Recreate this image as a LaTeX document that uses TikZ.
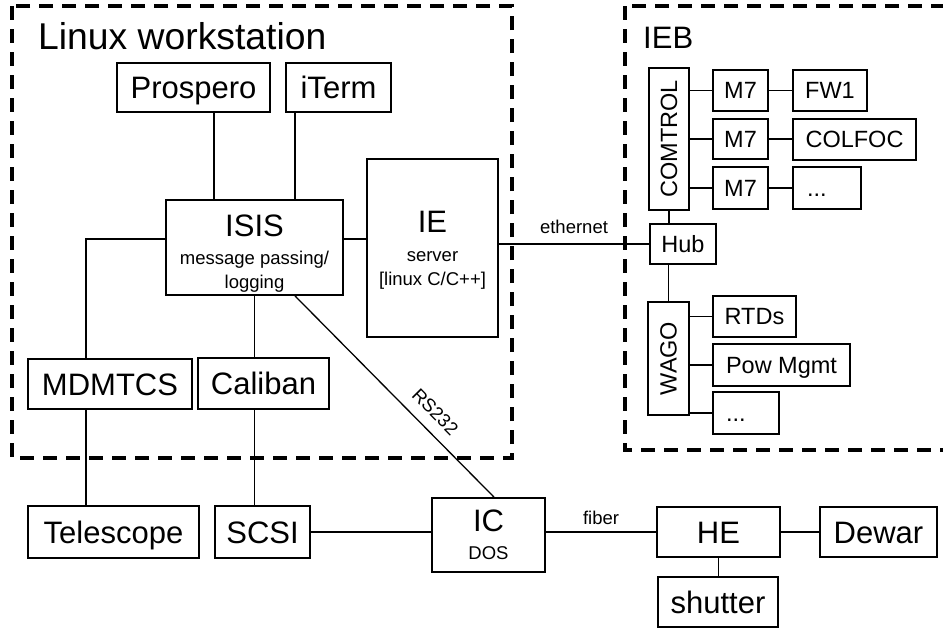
\documentclass[tikz,border=0pt]{standalone}
\usepackage{fontspec}
\setmainfont{Liberation Sans}
\newcommand\dgTitle{\fontsize{37.3}{40}\selectfont}
\newcommand\dgBig{\fontsize{31}{27}\selectfont}
\newcommand\dgMid{\fontsize{23.5}{26}\selectfont}
\newcommand\dgSmall{\fontsize{18.5}{21}\selectfont}
\begin{document}
\begin{tikzpicture}[x=1pt,y=-1pt,
  box/.style={draw, line width=1.8pt, inner sep=0pt, align=center},
  bigtxt/.style={font=\dgBig, text height=22.2pt, text depth=0pt},
  midtxt/.style={font=\dgMid, text height=16.8pt, text depth=0pt},
  midrot/.style={font=\dgMid},
  multi/.style={font=\dgSmall},
  wire/.style={line width=1.8pt},
  thinwire/.style={line width=1.3pt},
  group/.style={draw, line width=4.5pt, dash pattern=on 14pt off 9pt},
  lbl/.style={font=\dgSmall, inner sep=1pt}]
\fill[white] (0,0) rectangle (943,629);
\useasboundingbox (0,0) rectangle (943,629);
% group frames
\draw[group] (12,6) rectangle (512,458);
\begin{scope}
\clip (0,0) rectangle (943,629);
\draw[group] (625,6) rectangle (985,450);
\end{scope}
\node[anchor=base west, font=\dgTitle, inner sep=0pt] (lwtitle) at (38,49) {Linux workstation};
\node[anchor=base west, font=\dgBig, inner sep=0pt] (iebtitle) at (643,48) {IEB};
% workstation nodes
\node[box, bigtxt, minimum width=153, minimum height=49] (prospero) at (193.5,87.5) {Prospero};
\node[box, bigtxt, minimum width=105, minimum height=49] (iterm) at (338.5,87.5) {iTerm};
\node[box, multi, minimum width=177, minimum height=95] (isis) at (254.5,247.5)
  {\dgBig\rule{0pt}{33pt}ISIS\\[7pt] \dgSmall message passing/\\[3pt] \dgSmall logging};
\node[box, multi, minimum width=131, minimum height=178] (ie) at (432.5,248)
  {\dgBig\rule{0pt}{26pt}IE\\[8pt] \dgSmall server\\[3pt] \dgSmall [linux C/C++]};
\node[box, bigtxt, minimum width=164, minimum height=50] (mdmtcs) at (110,384) {MDMTCS};
\node[box, bigtxt, minimum width=131, minimum height=51] (caliban) at (263.5,383.5) {Caliban};
% bottom row
\node[box, bigtxt, minimum width=171, minimum height=52] (telescope) at (113.5,532) {Telescope};
\node[box, bigtxt, minimum width=95, minimum height=52] (scsi) at (262.5,532) {SCSI};
\node[box, multi, minimum width=113, minimum height=74] (ic) at (488.5,535)
  {\dgBig IC\\[7pt] \dgSmall DOS};
\node[box, bigtxt, minimum width=123, minimum height=50] (he) at (718.5,532) {HE};
\node[box, bigtxt, minimum width=117, minimum height=50] (dewar) at (878.5,532) {Dewar};
\node[box, bigtxt, minimum width=120, minimum height=50] (shutter) at (718,602) {shutter};
% IEB nodes
\node[box, midrot, minimum width=40, minimum height=142] (comtrol) at (669,139) {\rotatebox{90}{COMTROL}};
\node[box, midtxt, minimum width=66, minimum height=40] (hub) at (683,244) {Hub};
\node[box, midrot, minimum width=41, minimum height=113] (wago) at (668.5,358.5) {\rotatebox{90}{WAGO}};
\node[box, midtxt, minimum width=55, minimum height=41] (m7a) at (740.5,90.5) {M7};
\node[box, midtxt, minimum width=55, minimum height=40] (m7b) at (740.5,139) {M7};
\node[box, midtxt, minimum width=55, minimum height=42] (m7c) at (740.5,188) {M7};
\node[box, midtxt, minimum width=74, minimum height=41] (fw1) at (830,90.5) {FW1};
\node[box, midtxt, minimum width=123, minimum height=41] (colfoc) at (854.5,139.5) {COLFOC};
\node[box, midtxt, minimum width=68, minimum height=42, text width=40, align=left] (dotsa) at (827,188) {...};
\node[box, midtxt, minimum width=83, minimum height=41] (rtds) at (754.5,316.5) {RTDs};
\node[box, midtxt, minimum width=137, minimum height=42] (powmgmt) at (781.5,365) {Pow Mgmt};
\node[box, midtxt, minimum width=66, minimum height=42, text width=40, align=left] (dotsb) at (746,413) {...};
% workstation connectors
\draw[wire] ([xshift=-40.5pt]isis.north) -- ([xshift=-40.5pt]isis.north |- prospero.south);
\draw[wire] ([xshift=40.5pt]isis.north) -- ([xshift=40.5pt]isis.north |- iterm.south);
\draw[wire] ([yshift=8.5pt]isis.west) -| ([xshift=-24pt]mdmtcs.north);
\draw[wire] ([yshift=8.5pt]isis.east) -- ([yshift=8.5pt]isis.east -| ie.west);
\draw[wire] (isis.south) -- (isis.south |- caliban.north);
\draw[wire] ([xshift=-24pt]mdmtcs.south) -- ([xshift=-24pt]mdmtcs.south |- telescope.north);
\draw[wire] (isis.south |- caliban.south) -- (isis.south |- scsi.north);
\draw[thinwire] ([xshift=40.5pt]isis.south) -- node[lbl, sloped, pos=0.64, above=10pt] {RS232} ([xshift=5.5pt]ic.north);
\draw[wire] (hub.west -| ie.east) -- node[lbl, above=8pt] {ethernet} (hub.west);
% bottom connectors
\draw[wire] (scsi.east) -- (scsi.east -| ic.west);
\draw[wire] (he.west -| ic.east) -- node[lbl, above=5pt] {fiber} (he.west);
\draw[wire] (he.east) -- (he.east -| dewar.west);
\draw[wire] (he.south) -- (he.south |- shutter.north);
% IEB connectors
\draw[wire] (comtrol.south) -- (comtrol.south |- hub.north);
\draw[wire] (wago.north |- hub.south) -- (wago.north);
\draw[wire] (m7a.west -| comtrol.east) -- (m7a.west);
\draw[wire] (m7b.west -| comtrol.east) -- (m7b.west);
\draw[wire] (m7c.west -| comtrol.east) -- (m7c.west);
\draw[wire] (m7a.east) -- (m7a.east -| fw1.west);
\draw[wire] (m7b.east) -- (m7b.east -| colfoc.west);
\draw[wire] (m7c.east) -- (m7c.east -| dotsa.west);
\draw[wire] (rtds.west -| wago.east) -- (rtds.west);
\draw[wire] (powmgmt.west -| wago.east) -- (powmgmt.west);
\draw[wire] (dotsb.west -| wago.east) -- (dotsb.west);
\end{tikzpicture}
\end{document}
